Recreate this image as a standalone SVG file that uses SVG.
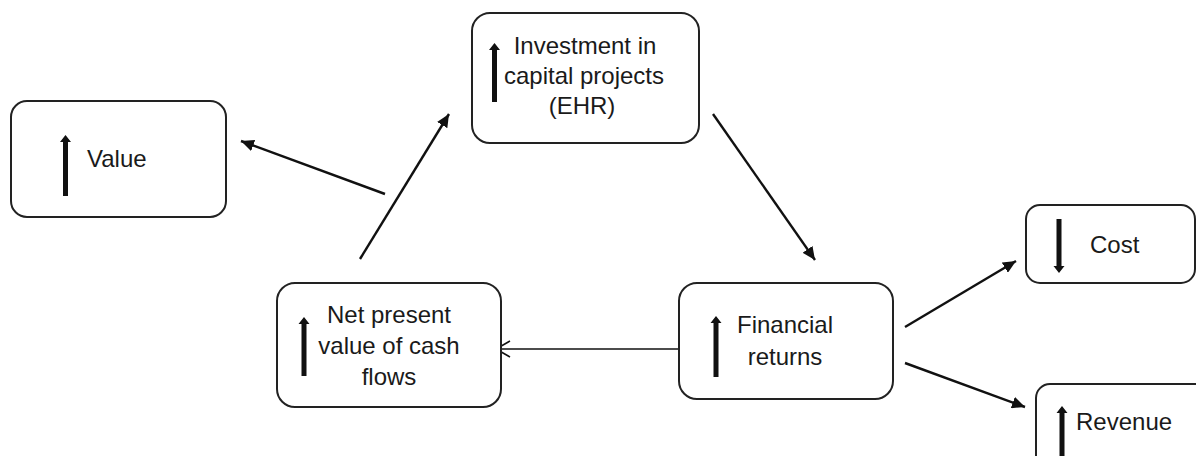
<svg xmlns="http://www.w3.org/2000/svg" width="1196" height="456" viewBox="0 0 1196 456">
  <style>
    .box { fill: #ffffff; stroke: #222222; stroke-width: 2; }
    .lbl { font-family: "Liberation Sans", Arial, sans-serif; font-size: 24px; fill: #1a1a1a; }
    .mid { text-anchor: middle; }
    .trend { fill: #111111; }
    .link { fill: none; stroke: #111111; stroke-width: 2.4; marker-end: url(#head); }
    .thin { fill: none; stroke: #111111; stroke-width: 1.6; }
  </style>
  <defs>
    <marker id="head" markerUnits="userSpaceOnUse" markerWidth="14" markerHeight="12" refX="13" refY="6" orient="auto">
      <path d="M0,0 L13,6 L0,12 Z" fill="#111111"/>
    </marker>
  </defs>

  <rect width="1196" height="456" fill="#ffffff"/>

  <!-- connectors -->
  <g id="connectors">
    <line class="link" x1="385" y1="194" x2="241" y2="141"/>
    <line class="link" x1="360" y1="259" x2="449" y2="114"/>
    <line class="link" x1="713" y1="114" x2="815" y2="260"/>
    <line class="thin" x1="679" y1="349" x2="496" y2="349"/>
    <polyline class="thin" points="510,341 496,349 510,357"/>
    <line class="link" x1="905" y1="327" x2="1016" y2="261"/>
    <line class="link" x1="905" y1="363" x2="1025" y2="407"/>
  </g>

  <!-- Value -->
  <g id="node-value">
    <rect class="box" x="11" y="101" width="215" height="116" rx="16"/>
    <path class="trend" d="M65.5,135 L71,142 L68,142 L68,196 L63,196 L63,142 L60,142 Z"/>
    <text class="lbl" x="87" y="167">Value</text>
  </g>

  <!-- Investment in capital projects -->
  <g id="node-investment">
    <rect class="box" x="472" y="13" width="227" height="130" rx="18"/>
    <path class="trend" d="M494.5,43 L500,50 L497,50 L497,102 L492,102 L492,50 L489,50 Z"/>
    <text class="lbl mid" x="585" y="54">Investment in</text>
    <text class="lbl mid" x="584" y="84">capital projects</text>
    <text class="lbl mid" x="582" y="114">(EHR)</text>
  </g>

  <!-- Net present value of cash flows -->
  <g id="node-npv">
    <rect class="box" x="277" y="283" width="224" height="124" rx="18"/>
    <path class="trend" d="M304,317 L309.5,324 L306.5,324 L306.5,376 L301.5,376 L301.5,324 L298.5,324 Z"/>
    <text class="lbl mid" x="389" y="323">Net present</text>
    <text class="lbl mid" x="389" y="354">value of cash</text>
    <text class="lbl mid" x="389" y="385">flows</text>
  </g>

  <!-- Financial returns -->
  <g id="node-financial">
    <rect class="box" x="679" y="283" width="214" height="116" rx="18"/>
    <path class="trend" d="M716,316 L721.5,323 L718.5,323 L718.5,377 L713.5,377 L713.5,323 L710.5,323 Z"/>
    <text class="lbl mid" x="785" y="333">Financial</text>
    <text class="lbl mid" x="785" y="365">returns</text>
  </g>

  <!-- Cost -->
  <g id="node-cost">
    <rect class="box" x="1026" y="205" width="169" height="78" rx="14"/>
    <path class="trend" d="M1059,273 L1064.5,266 L1061.5,266 L1061.5,219 L1056.5,219 L1056.5,266 L1053.5,266 Z"/>
    <text class="lbl" x="1090" y="253">Cost</text>
  </g>

  <!-- Revenue -->
  <g id="node-revenue">
    <rect class="box" x="1036" y="384" width="180" height="100" rx="14"/>
    <path class="trend" d="M1062,406 L1067.5,413 L1064.5,413 L1064.5,460 L1059.5,460 L1059.5,413 L1056.5,413 Z"/>
    <text class="lbl" x="1076" y="430">Revenue</text>
  </g>
</svg>
